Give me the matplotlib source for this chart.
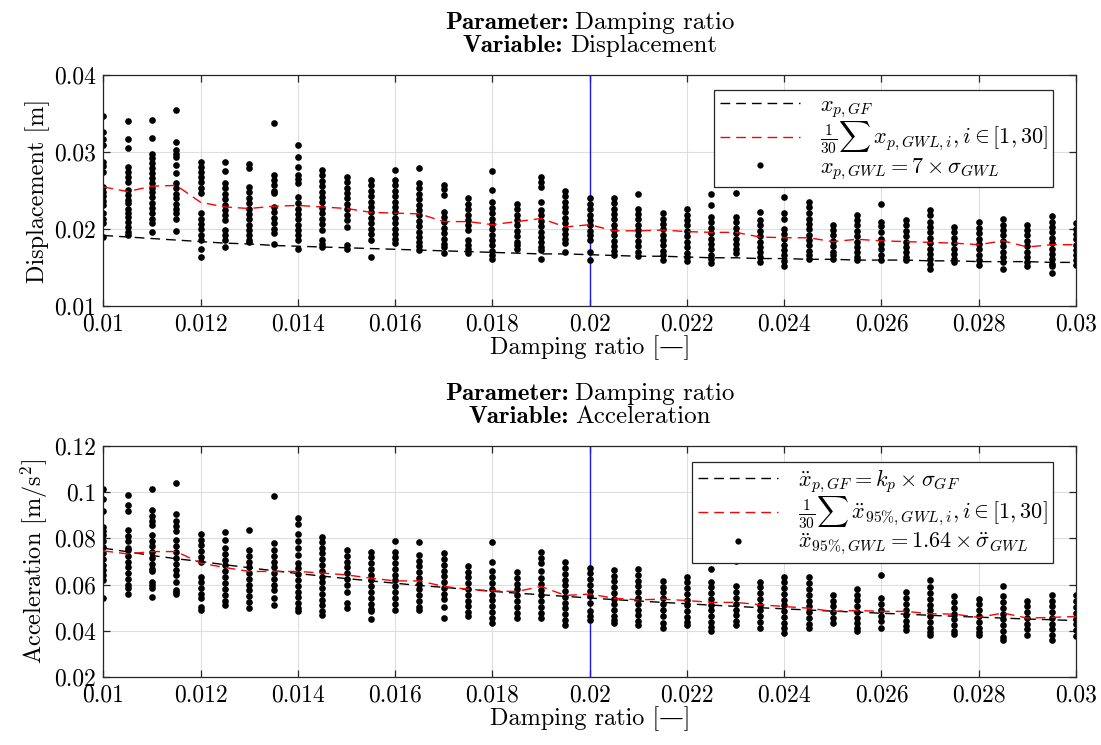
import matplotlib
matplotlib.use("Agg")
import matplotlib.pyplot as plt
from matplotlib.offsetbox import TextArea, HPacker, VPacker, AnchoredOffsetbox

plt.rcParams['font.family'] = ['cmr10', 'DejaVu Serif']
plt.rcParams['mathtext.fontset'] = 'cm'
plt.rcParams['axes.unicode_minus'] = False

# damping ratios of the study
damping = [0.0100, 0.0105, 0.0110, 0.0115, 0.0120, 0.0125, 0.0130, 0.0135, 0.0140, 0.0145,
           0.0150, 0.0155, 0.0160, 0.0165, 0.0170, 0.0175, 0.0180, 0.0185, 0.0190, 0.0195,
           0.0200, 0.0205, 0.0210, 0.0215, 0.0220, 0.0225, 0.0230, 0.0235, 0.0240, 0.0245,
           0.0250, 0.0255, 0.0260, 0.0265, 0.0270, 0.0275, 0.0280, 0.0285, 0.0290, 0.0295,
           0.0300]
zeta_ref = 0.02

# displacement: GF reference, mean of GWL, GWL realisations
disp_gf = [0.0192, 0.0190, 0.0188, 0.0186, 0.0184, 0.0182, 0.0181, 0.0179, 0.0178, 0.0177,
           0.0176, 0.0175, 0.0174, 0.0173, 0.0172, 0.0171, 0.0170, 0.0169, 0.0168, 0.0168,
           0.0167, 0.0166, 0.0165, 0.0165, 0.0164, 0.0163, 0.0163, 0.0162, 0.0162, 0.0161,
           0.0161, 0.0160, 0.0160, 0.0160, 0.0159, 0.0159, 0.0158, 0.0158, 0.0158, 0.0157,
           0.0157]
disp_mean = [0.0255, 0.0249, 0.0256, 0.0257, 0.0235, 0.0229, 0.0227, 0.0230, 0.0231, 0.0229,
             0.0227, 0.0222, 0.0221, 0.0220, 0.0210, 0.0210, 0.0206, 0.0210, 0.0214, 0.0203,
             0.0206, 0.0198, 0.0198, 0.0199, 0.0197, 0.0196, 0.0196, 0.0190, 0.0189, 0.0189,
             0.0184, 0.0187, 0.0185, 0.0184, 0.0183, 0.0182, 0.0180, 0.0185, 0.0177, 0.0180,
             0.0180]
disp_gwl = [
    [0.0347, 0.0326, 0.0317, 0.0310, 0.0287, 0.0282, 0.0274, 0.0255, 0.0249, 0.0243, 0.0237, 0.0231, 0.0221, 0.0214, 0.0208, 0.0190],
    [0.0341, 0.0317, 0.0305, 0.0281, 0.0275, 0.0268, 0.0261, 0.0251, 0.0245, 0.0238, 0.0234, 0.0227, 0.0221, 0.0216, 0.0209, 0.0203, 0.0197, 0.0192],
    [0.0342, 0.0318, 0.0298, 0.0292, 0.0286, 0.0280, 0.0273, 0.0267, 0.0260, 0.0254, 0.0248, 0.0242, 0.0234, 0.0228, 0.0221, 0.0214, 0.0208, 0.0196],
    [0.0355, 0.0314, 0.0303, 0.0298, 0.0294, 0.0284, 0.0273, 0.0260, 0.0253, 0.0246, 0.0240, 0.0233, 0.0227, 0.0221, 0.0213, 0.0198],
    [0.0287, 0.0281, 0.0275, 0.0268, 0.0261, 0.0254, 0.0247, 0.0221, 0.0214, 0.0207, 0.0200, 0.0193, 0.0186, 0.0175, 0.0164],
    [0.0287, 0.0276, 0.0260, 0.0253, 0.0246, 0.0239, 0.0232, 0.0225, 0.0218, 0.0212, 0.0199, 0.0192, 0.0186, 0.0177],
    [0.0285, 0.0279, 0.0255, 0.0248, 0.0241, 0.0234, 0.0227, 0.0220, 0.0213, 0.0206, 0.0199, 0.0192, 0.0186, 0.0183],
    [0.0338, 0.0271, 0.0264, 0.0257, 0.0250, 0.0247, 0.0229, 0.0222, 0.0215, 0.0208, 0.0201, 0.0195, 0.0181],
    [0.0309, 0.0294, 0.0281, 0.0271, 0.0265, 0.0260, 0.0242, 0.0234, 0.0227, 0.0220, 0.0213, 0.0206, 0.0199, 0.0192, 0.0186, 0.0175],
    [0.0277, 0.0270, 0.0263, 0.0256, 0.0249, 0.0242, 0.0235, 0.0228, 0.0221, 0.0214, 0.0207, 0.0199, 0.0186, 0.0181, 0.0177],
    [0.0268, 0.0261, 0.0254, 0.0247, 0.0240, 0.0233, 0.0226, 0.0219, 0.0212, 0.0203, 0.0180, 0.0175],
    [0.0264, 0.0257, 0.0250, 0.0243, 0.0236, 0.0229, 0.0222, 0.0215, 0.0208, 0.0201, 0.0194, 0.0186, 0.0164],
    [0.0277, 0.0264, 0.0257, 0.0250, 0.0243, 0.0236, 0.0229, 0.0222, 0.0215, 0.0208, 0.0201, 0.0194, 0.0188, 0.0182],
    [0.0280, 0.0260, 0.0253, 0.0246, 0.0239, 0.0232, 0.0225, 0.0218, 0.0211, 0.0204, 0.0197, 0.0190, 0.0183, 0.0178, 0.0173],
    [0.0258, 0.0252, 0.0245, 0.0223, 0.0216, 0.0209, 0.0202, 0.0195, 0.0188, 0.0181, 0.0177, 0.0169],
    [0.0240, 0.0233, 0.0226, 0.0219, 0.0212, 0.0205, 0.0199, 0.0186, 0.0180, 0.0174, 0.0169],
    [0.0276, 0.0251, 0.0235, 0.0228, 0.0221, 0.0214, 0.0207, 0.0200, 0.0193, 0.0186, 0.0179, 0.0172, 0.0166, 0.0162],
    [0.0233, 0.0226, 0.0219, 0.0212, 0.0205, 0.0198, 0.0191, 0.0184, 0.0179, 0.0175],
    [0.0268, 0.0262, 0.0255, 0.0235, 0.0225, 0.0218, 0.0211, 0.0204, 0.0197, 0.0190, 0.0183, 0.0177, 0.0173, 0.0162],
    [0.0250, 0.0243, 0.0236, 0.0229, 0.0222, 0.0215, 0.0208, 0.0201, 0.0194, 0.0188, 0.0182, 0.0170],
    [0.0240, 0.0233, 0.0226, 0.0219, 0.0212, 0.0205, 0.0198, 0.0192, 0.0186, 0.0171, 0.0160],
    [0.0241, 0.0234, 0.0227, 0.0220, 0.0213, 0.0206, 0.0199, 0.0192, 0.0185, 0.0178, 0.0172, 0.0167],
    [0.0246, 0.0227, 0.0220, 0.0213, 0.0206, 0.0199, 0.0192, 0.0185, 0.0178, 0.0171, 0.0165],
    [0.0221, 0.0214, 0.0207, 0.0200, 0.0193, 0.0186, 0.0179, 0.0172, 0.0166, 0.0160],
    [0.0226, 0.0219, 0.0212, 0.0205, 0.0198, 0.0191, 0.0184, 0.0177, 0.0169, 0.0164, 0.0159],
    [0.0246, 0.0231, 0.0216, 0.0209, 0.0202, 0.0195, 0.0188, 0.0181, 0.0174, 0.0167, 0.0161, 0.0156],
    [0.0247, 0.0216, 0.0209, 0.0202, 0.0195, 0.0188, 0.0181, 0.0175, 0.0169],
    [0.0222, 0.0212, 0.0205, 0.0198, 0.0191, 0.0184, 0.0177, 0.0170, 0.0164, 0.0158],
    [0.0242, 0.0221, 0.0214, 0.0201, 0.0194, 0.0187, 0.0180, 0.0173, 0.0166, 0.0159, 0.0152],
    [0.0235, 0.0229, 0.0221, 0.0214, 0.0207, 0.0200, 0.0193, 0.0186, 0.0179, 0.0172, 0.0166, 0.0162],
    [0.0206, 0.0199, 0.0192, 0.0185, 0.0178, 0.0171, 0.0166, 0.0162],
    [0.0219, 0.0212, 0.0205, 0.0198, 0.0191, 0.0184, 0.0177, 0.0170, 0.0164, 0.0160],
    [0.0233, 0.0210, 0.0204, 0.0197, 0.0188, 0.0181, 0.0174, 0.0167, 0.0160],
    [0.0212, 0.0205, 0.0198, 0.0191, 0.0184, 0.0177, 0.0170, 0.0164, 0.0160],
    [0.0225, 0.0219, 0.0210, 0.0203, 0.0196, 0.0189, 0.0182, 0.0175, 0.0168, 0.0161, 0.0155, 0.0149],
    [0.0203, 0.0196, 0.0189, 0.0182, 0.0175, 0.0168, 0.0162, 0.0158],
    [0.0209, 0.0202, 0.0195, 0.0188, 0.0181, 0.0174, 0.0167, 0.0160, 0.0154],
    [0.0213, 0.0206, 0.0199, 0.0192, 0.0185, 0.0178, 0.0171, 0.0164, 0.0157, 0.0149],
    [0.0206, 0.0199, 0.0192, 0.0185, 0.0178, 0.0171, 0.0164, 0.0158, 0.0152],
    [0.0217, 0.0210, 0.0203, 0.0196, 0.0189, 0.0182, 0.0175, 0.0168, 0.0161, 0.0155, 0.0152, 0.0143],
    [0.0208, 0.0201, 0.0194, 0.0187, 0.0180, 0.0173, 0.0166, 0.0160, 0.0154],
]

# acceleration: GF reference, mean of GWL, GWL realisations
acc_gf = [0.0758, 0.0742, 0.0726, 0.0712, 0.0700, 0.0686, 0.0673, 0.0660, 0.0648, 0.0637,
          0.0626, 0.0616, 0.0606, 0.0596, 0.0588, 0.0579, 0.0571, 0.0563, 0.0556, 0.0549,
          0.0542, 0.0535, 0.0529, 0.0523, 0.0517, 0.0511, 0.0506, 0.0500, 0.0495, 0.0490,
          0.0485, 0.0481, 0.0476, 0.0472, 0.0467, 0.0463, 0.0459, 0.0455, 0.0451, 0.0448,
          0.0444]
acc_mean = [0.0746, 0.0733, 0.0743, 0.0743, 0.0693, 0.0674, 0.0657, 0.0657, 0.0657, 0.0650,
            0.0642, 0.0628, 0.0616, 0.0616, 0.0592, 0.0580, 0.0573, 0.0570, 0.0592, 0.0553,
            0.0559, 0.0541, 0.0534, 0.0537, 0.0531, 0.0523, 0.0523, 0.0513, 0.0505, 0.0498,
            0.0484, 0.0488, 0.0484, 0.0484, 0.0474, 0.0472, 0.0458, 0.0477, 0.0455, 0.0458,
            0.0462]
acc_gwl = [
    [0.1014, 0.0970, 0.0920, 0.0850, 0.0832, 0.0815, 0.0787, 0.0762, 0.0737, 0.0712, 0.0687, 0.0662, 0.0642, 0.0618, 0.0544],
    [0.0988, 0.0945, 0.0920, 0.0837, 0.0812, 0.0787, 0.0758, 0.0750, 0.0725, 0.0700, 0.0675, 0.0650, 0.0625, 0.0600, 0.0585, 0.0560],
    [0.1014, 0.0924, 0.0895, 0.0877, 0.0859, 0.0815, 0.0790, 0.0765, 0.0743, 0.0715, 0.0690, 0.0668, 0.0657, 0.0613, 0.0598, 0.0585, 0.0545],
    [0.1039, 0.0906, 0.0876, 0.0853, 0.0830, 0.0794, 0.0765, 0.0740, 0.0715, 0.0690, 0.0665, 0.0642, 0.0613, 0.0578, 0.0568, 0.0560],
    [0.0820, 0.0795, 0.0770, 0.0745, 0.0720, 0.0700, 0.0635, 0.0610, 0.0585, 0.0560, 0.0541, 0.0505, 0.0491],
    [0.0826, 0.0794, 0.0758, 0.0733, 0.0708, 0.0683, 0.0658, 0.0633, 0.0608, 0.0583, 0.0556, 0.0527, 0.0513],
    [0.0837, 0.0750, 0.0725, 0.0700, 0.0675, 0.0650, 0.0625, 0.0600, 0.0575, 0.0550, 0.0525, 0.0498],
    [0.0984, 0.0780, 0.0750, 0.0725, 0.0700, 0.0675, 0.0650, 0.0625, 0.0600, 0.0575, 0.0541, 0.0513],
    [0.0890, 0.0862, 0.0818, 0.0787, 0.0760, 0.0729, 0.0693, 0.0671, 0.0645, 0.0620, 0.0595, 0.0570, 0.0545, 0.0520, 0.0500, 0.0484],
    [0.0808, 0.0785, 0.0760, 0.0735, 0.0710, 0.0685, 0.0660, 0.0635, 0.0610, 0.0585, 0.0560, 0.0535, 0.0510, 0.0484, 0.0470],
    [0.0750, 0.0725, 0.0700, 0.0675, 0.0650, 0.0625, 0.0600, 0.0570, 0.0520, 0.0498],
    [0.0743, 0.0718, 0.0693, 0.0668, 0.0643, 0.0618, 0.0593, 0.0568, 0.0543, 0.0518, 0.0493, 0.0484, 0.0450],
    [0.0789, 0.0743, 0.0718, 0.0693, 0.0668, 0.0643, 0.0618, 0.0593, 0.0568, 0.0543, 0.0518, 0.0491],
    [0.0784, 0.0729, 0.0704, 0.0679, 0.0654, 0.0629, 0.0604, 0.0579, 0.0554, 0.0529, 0.0505, 0.0491],
    [0.0736, 0.0711, 0.0686, 0.0661, 0.0636, 0.0611, 0.0586, 0.0561, 0.0536, 0.0505, 0.0455],
    [0.0681, 0.0656, 0.0631, 0.0606, 0.0581, 0.0556, 0.0531, 0.0506, 0.0481, 0.0462],
    [0.0784, 0.0697, 0.0657, 0.0632, 0.0607, 0.0582, 0.0557, 0.0532, 0.0507, 0.0482, 0.0457, 0.0433],
    [0.0654, 0.0629, 0.0604, 0.0579, 0.0554, 0.0529, 0.0504, 0.0479, 0.0455],
    [0.0740, 0.0715, 0.0693, 0.0657, 0.0628, 0.0603, 0.0578, 0.0553, 0.0528, 0.0503, 0.0478, 0.0455],
    [0.0697, 0.0672, 0.0647, 0.0622, 0.0597, 0.0572, 0.0547, 0.0522, 0.0497, 0.0472, 0.0447, 0.0426],
    [0.0674, 0.0649, 0.0624, 0.0599, 0.0574, 0.0549, 0.0520, 0.0484, 0.0465, 0.0448],
    [0.0664, 0.0639, 0.0614, 0.0589, 0.0564, 0.0539, 0.0514, 0.0489, 0.0464, 0.0445, 0.0433],
    [0.0667, 0.0642, 0.0617, 0.0592, 0.0567, 0.0542, 0.0517, 0.0492, 0.0467, 0.0442, 0.0426],
    [0.0616, 0.0591, 0.0566, 0.0541, 0.0516, 0.0491, 0.0462, 0.0433, 0.0412],
    [0.0635, 0.0610, 0.0585, 0.0560, 0.0535, 0.0510, 0.0485, 0.0460, 0.0440, 0.0426],
    [0.0667, 0.0613, 0.0588, 0.0563, 0.0538, 0.0513, 0.0488, 0.0463, 0.0438, 0.0415, 0.0397],
    [0.0704, 0.0592, 0.0567, 0.0542, 0.0517, 0.0492, 0.0467, 0.0442, 0.0426],
    [0.0613, 0.0588, 0.0563, 0.0538, 0.0513, 0.0488, 0.0463, 0.0438, 0.0412],
    [0.0635, 0.0610, 0.0585, 0.0560, 0.0535, 0.0510, 0.0485, 0.0460, 0.0435, 0.0410, 0.0390],
    [0.0631, 0.0606, 0.0581, 0.0556, 0.0531, 0.0506, 0.0481, 0.0456, 0.0431, 0.0412],
    [0.0556, 0.0531, 0.0506, 0.0481, 0.0456, 0.0433],
    [0.0582, 0.0557, 0.0532, 0.0507, 0.0482, 0.0457, 0.0432, 0.0410, 0.0397],
    [0.0642, 0.0541, 0.0516, 0.0491, 0.0466, 0.0441, 0.0412],
    [0.0567, 0.0542, 0.0517, 0.0492, 0.0467, 0.0442, 0.0420, 0.0404],
    [0.0621, 0.0588, 0.0563, 0.0538, 0.0513, 0.0488, 0.0463, 0.0438, 0.0413, 0.0395, 0.0383],
    [0.0549, 0.0524, 0.0499, 0.0474, 0.0449, 0.0424, 0.0400, 0.0386],
    [0.0539, 0.0514, 0.0489, 0.0464, 0.0439, 0.0414, 0.0395, 0.0383],
    [0.0592, 0.0549, 0.0524, 0.0499, 0.0474, 0.0449, 0.0424, 0.0399, 0.0375, 0.0361],
    [0.0531, 0.0506, 0.0481, 0.0456, 0.0431, 0.0406, 0.0383],
    [0.0556, 0.0531, 0.0506, 0.0481, 0.0456, 0.0431, 0.0406, 0.0381, 0.0361],
    [0.0553, 0.0528, 0.0503, 0.0478, 0.0453, 0.0428, 0.0403, 0.0376],
]

x_ticks = [0.01, 0.012, 0.014, 0.016, 0.018, 0.02, 0.022, 0.024, 0.026, 0.028, 0.03]
x_ticklabels = ['0.01', '0.012', '0.014', '0.016', '0.018', '0.02', '0.022', '0.024', '0.026', '0.028', '0.03']
disp_ticks = [0.01, 0.02, 0.03, 0.04]
disp_ticklabels = ['0.01', '0.02', '0.03', '0.04']
acc_ticks = [0.02, 0.04, 0.06, 0.08, 0.1, 0.12]
acc_ticklabels = ['0.02', '0.04', '0.06', '0.08', '0.1', '0.12']

TICK_FS = 17
LABEL_FS = 17.5
TITLE_FS = 18
LEGEND_FS = 16


def scatter_xy(cols):
    xs, ys = [], []
    for z, col in zip(damping, cols):
        xs.extend([z] * len(col))
        ys.extend(col)
    return xs, ys


def add_title(ax, var):
    rows = []
    for key, val in (('Parameter:', 'Damping ratio'), ('Variable:', var)):
        rows.append(HPacker(children=[TextArea(key, textprops=dict(family='cmb10', size=TITLE_FS)),
                                      TextArea(val, textprops=dict(size=TITLE_FS))],
                            sep=5, align='baseline', pad=0))
    box = VPacker(children=rows, sep=0.5, align='center', pad=0)
    anch = AnchoredOffsetbox(loc='lower center', child=box, bbox_to_anchor=(0.5, 1.0),
                             bbox_transform=ax.transAxes, frameon=False, pad=0,
                             borderpad=1.3, prop=dict(size=10))
    ax.add_artist(anch)


fig = plt.figure(figsize=(11.01, 7.45), dpi=100)
ax1 = fig.add_axes([0.0939, 0.5889, 0.8834, 0.3100])
ax2 = fig.add_axes([0.0939, 0.0913, 0.8834, 0.3100])

panels = [
    (ax1, disp_gf, disp_mean, disp_gwl, (0.01, 0.04), disp_ticks, disp_ticklabels,
     'Displacement [m]', 'Displacement',
     [r'$x_{p,GF}$', r'$\frac{1}{30}\sum\, x_{p,GWL,i}, i\in[1,30]$', r'$x_{p,GWL} = 7\times\sigma_{GWL}$'],
     0.936),
    (ax2, acc_gf, acc_mean, acc_gwl, (0.02, 0.12), acc_ticks, acc_ticklabels,
     r'Acceleration [m/s$^2$]', 'Acceleration',
     [r'$\ddot{x}_{p,GF} = k_p\times\sigma_{GF}$', r'$\frac{1}{30}\sum\, \ddot{x}_{95\%,GWL,i}, i\in[1,30]$',
      r'$\ddot{x}_{95\%,GWL} = 1.64\times\ddot{\sigma}_{GWL}$'],
     0.931),
]

for ax, gf, mean, gwl, ylim, yt, ytl, ylabel, var, labels, leg_top in panels:
    xs, ys = scatter_xy(gwl)
    h1, = ax.plot(damping, gf, ls=(0, (7, 4.3)), color='black', lw=1.0, zorder=3)
    h2, = ax.plot(damping, mean, ls=(0, (7, 4.3)), color='red', lw=1.0, zorder=3)
    h3, = ax.plot(xs, ys, ls='none', marker='o', ms=4.8, color='black', mec='none', zorder=2)
    ax.axvline(zeta_ref, color=(0.1, 0.1, 0.95), lw=1.0, zorder=1)
    ax.set_xlim(0.01, 0.03)
    ax.set_ylim(*ylim)
    ax.set_xticks(x_ticks)
    ax.set_xticklabels(x_ticklabels)
    ax.set_yticks(yt)
    ax.set_yticklabels(ytl)
    ax.grid(True, color=(0.87, 0.87, 0.87), lw=0.8, zorder=0)
    ax.set_axisbelow(True)
    ax.tick_params(direction='in', top=True, right=True, length=5, width=0.9,
                   labelsize=TICK_FS, color=(0.15, 0.15, 0.15), pad=5)
    for sp in ax.spines.values():
        sp.set_color((0.15, 0.15, 0.15))
        sp.set_linewidth(0.9)
    ax.set_xlabel('Damping ratio [—]', fontsize=LABEL_FS, labelpad=0)
    ax.set_ylabel(ylabel, fontsize=LABEL_FS, labelpad=3)
    add_title(ax, var)
    leg = ax.legend([h1, h2, h3], labels, loc='upper right', bbox_to_anchor=(0.9764, leg_top),
                    borderaxespad=0, fontsize=LEGEND_FS, handlelength=3.6, numpoints=1,
                    fancybox=False, framealpha=1, edgecolor=(0.15, 0.15, 0.15),
                    labelspacing=0.0, borderpad=0.25, handletextpad=0.9)
    leg.get_frame().set_linewidth(0.9)
    for lh in leg.legend_handles[2:]:
        lh.set_markersize(4.5)

fig.savefig('out.png', dpi=100)
